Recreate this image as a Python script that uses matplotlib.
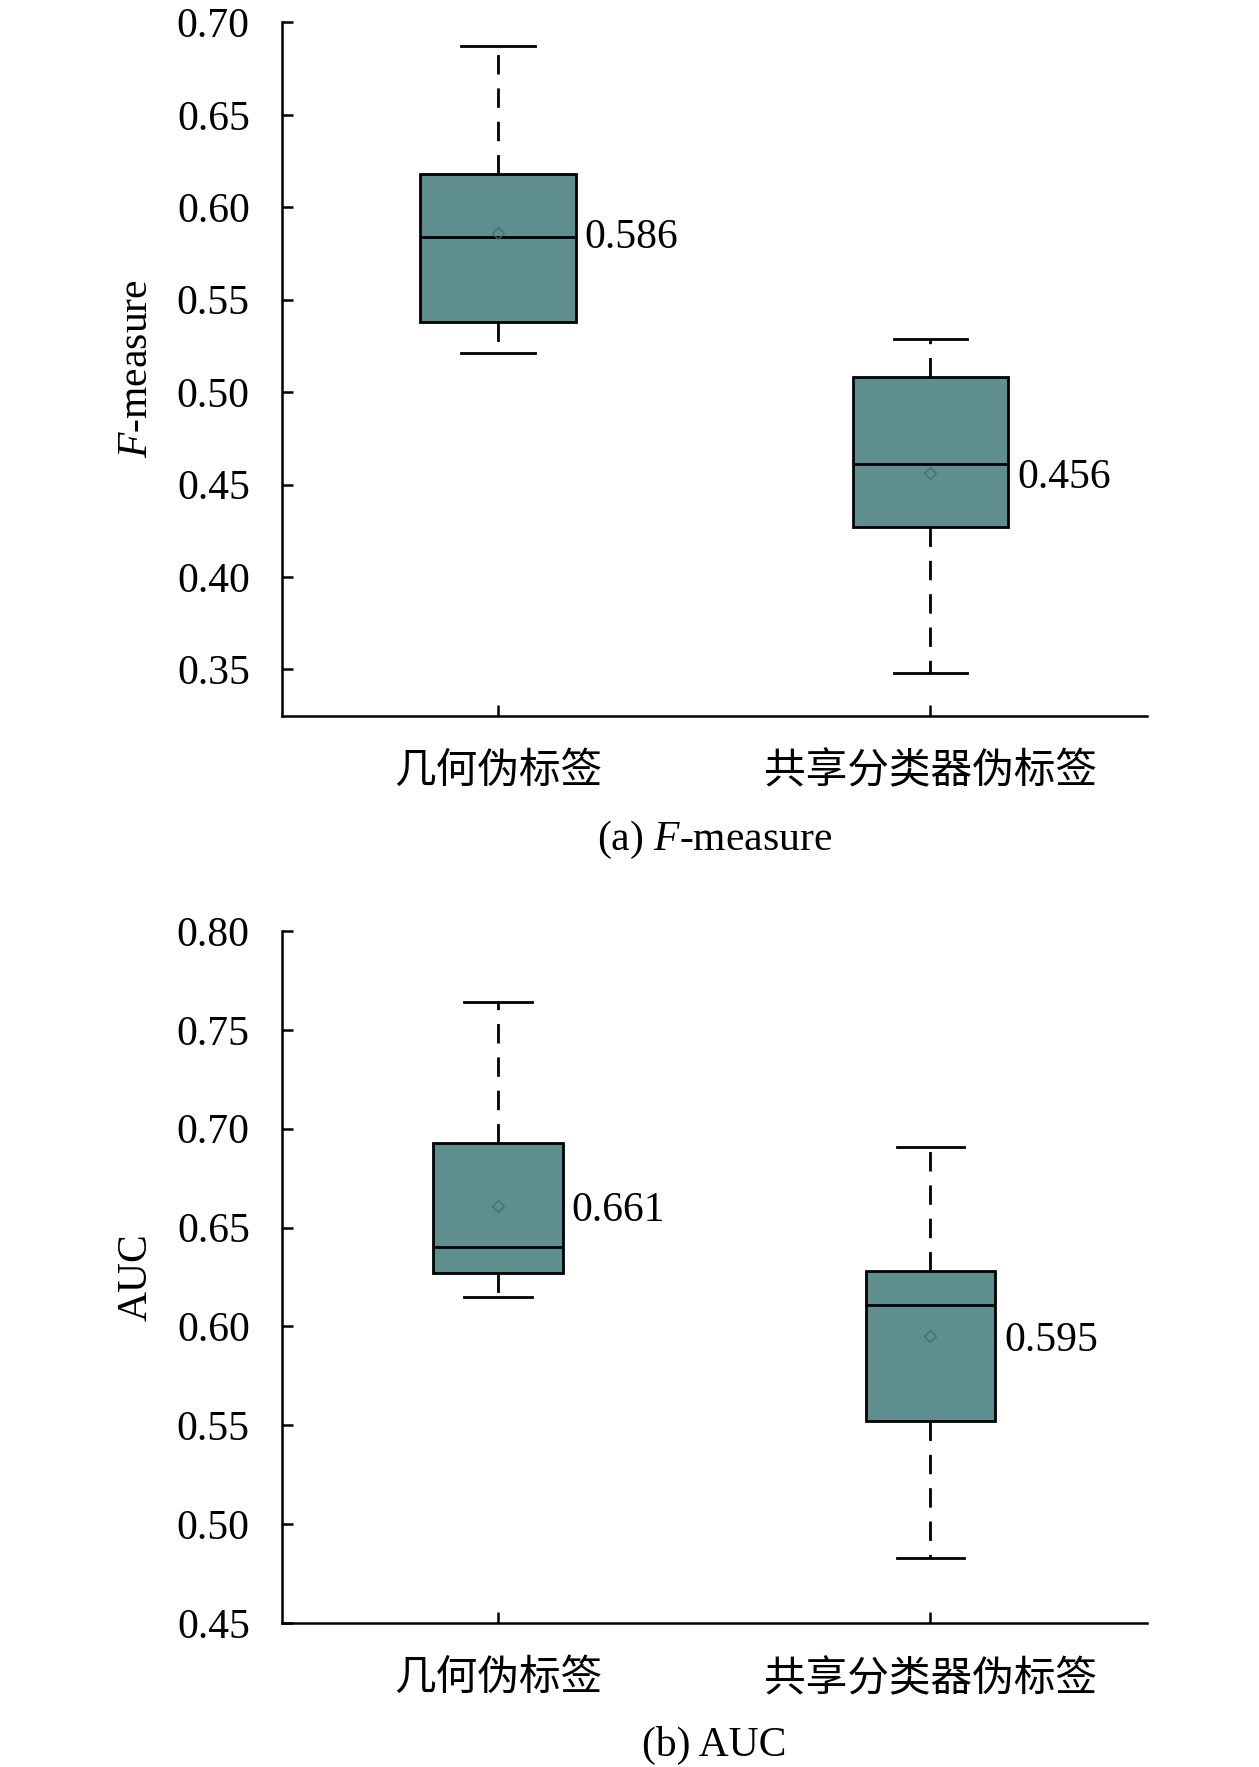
import matplotlib
matplotlib.use('Agg')
import matplotlib.pyplot as plt

plt.rcParams['font.family'] = ['Liberation Serif', 'Noto Sans CJK SC']
plt.rcParams['mathtext.fontset'] = 'custom'
plt.rcParams['mathtext.rm'] = 'Liberation Serif'
plt.rcParams['mathtext.it'] = 'Liberation Serif:italic'

categories = ['几何伪标签', '共享分类器伪标签']

# F-measure box stats: whislo, q1, med, q3, whishi, mean
f_whislo = [0.521, 0.348]
f_q1 = [0.538, 0.427]
f_med = [0.584, 0.461]
f_q3 = [0.618, 0.508]
f_whishi = [0.687, 0.529]
f_mean = [0.586, 0.456]

# AUC box stats
a_whislo = [0.615, 0.483]
a_q1 = [0.627, 0.552]
a_med = [0.640, 0.611]
a_q3 = [0.693, 0.628]
a_whishi = [0.764, 0.691]
a_mean = [0.661, 0.595]

BOX_COLOR = '#5F8E8E'
FS = 30


def draw_panel(ax, whislo, q1, med, q3, whishi, mean, width, capw, ylim, yticks, ylabel, caption):
    stats = []
    for i in range(len(categories)):
        stats.append(dict(whislo=whislo[i], q1=q1[i], med=med[i], q3=q3[i],
                          whishi=whishi[i], mean=mean[i], fliers=[]))
    ax.bxp(stats, positions=[1, 2], widths=width, patch_artist=True, showmeans=True,
           capwidths=capw,
           boxprops=dict(facecolor=BOX_COLOR, edgecolor='black', linewidth=2),
           medianprops=dict(color='black', linewidth=2),
           whiskerprops=dict(color='black', linewidth=2, linestyle=(0, (7, 5))),
           capprops=dict(color='black', linewidth=2),
           meanprops=dict(marker='D', markersize=6, markerfacecolor='none',
                          markeredgecolor='#3f6e6e', markeredgewidth=0.9))
    for i, m in enumerate(mean):
        ax.text(1 + i + width / 2 + 0.02, m, '%.3f' % m, fontsize=FS,
                va='center_baseline', ha='left')
    ax.set_xlim(0.5, 2.5)
    ax.set_ylim(*ylim)
    ax.set_yticks(yticks)
    ax.set_yticklabels(['%.2f' % t for t in yticks], fontsize=FS)
    ax.set_xticks([1, 2])
    ax.set_xticklabels(categories, fontsize=FS)
    ax.tick_params(direction='in', length=8, width=1.8)
    ax.tick_params(axis='y', pad=23)
    ax.tick_params(axis='x', pad=27)
    for s in ['top', 'right']:
        ax.spines[s].set_visible(False)
    for s in ['left', 'bottom']:
        ax.spines[s].set_linewidth(1.8)
    ax.set_ylabel(ylabel, fontsize=FS, labelpad=15)
    ax.set_xlabel(caption, fontsize=FS, labelpad=19)


fig = plt.figure(figsize=(12.59, 17.67), dpi=100)
ax1 = fig.add_axes([0.2238, 0.595, 0.687, 0.3923])
ax2 = fig.add_axes([0.2238, 0.0815, 0.687, 0.3916])

draw_panel(ax1, f_whislo, f_q1, f_med, f_q3, f_whishi, f_mean, 0.36, 0.17,
           (0.325, 0.70), [0.35, 0.40, 0.45, 0.50, 0.55, 0.60, 0.65, 0.70],
           '$F$-measure', '(a) $F$-measure')
draw_panel(ax2, a_whislo, a_q1, a_med, a_q3, a_whishi, a_mean, 0.30, 0.157,
           (0.45, 0.80), [0.45, 0.50, 0.55, 0.60, 0.65, 0.70, 0.75, 0.80],
           'AUC', '(b) AUC')

fig.savefig('out.png', dpi=100)
